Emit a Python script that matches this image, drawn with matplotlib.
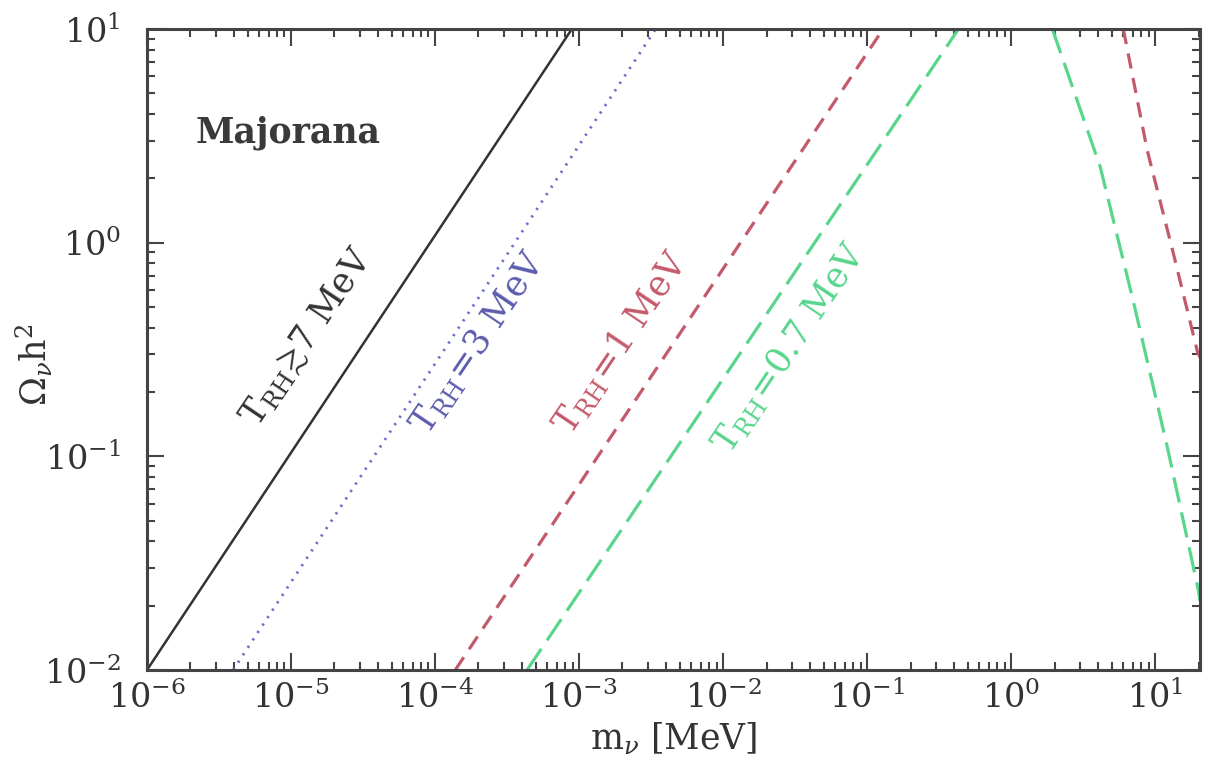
import numpy as np
import matplotlib
matplotlib.use("Agg")
import matplotlib.pyplot as plt
from matplotlib.ticker import LogLocator, NullFormatter

plt.rcParams["font.family"] = ["DejaVu Serif"]
plt.rcParams["mathtext.fontset"] = "dejavuserif"

# curves (m_nu in MeV, Omega h^2)
m_black = [1.0e-6, 8.9e-4]
om_black = [1e-2, 1e1]

m_blue = [3.96e-6, 3.4e-3]
om_blue = [1e-2, 1e1]

m_red = [1.38e-4, 0.129]
om_red = [1e-2, 1e1]
m_red_hi = [6.0, 8.8, 13.3, 19.6, 20.5]
om_red_hi = [1e1, 2.7, 0.9, 0.31, 0.29]

m_green = [4.35e-4, 0.43]
om_green = [1e-2, 1e1]
m_green_hi = [1.93, 4.15, 7.0, 12.1, 19.9, 20.5]
om_green_hi = [1e1, 2.26, 0.54, 0.111, 0.0237, 0.021]

c_black = "#333333"
c_blue = "#5c5cae"
c_red = "#c35a6a"
c_green = "#58d68c"

fig = plt.figure(figsize=(12.05, 7.76), dpi=100)
ax = fig.add_axes([0.122, 0.1366, 0.874, 0.826])

ax.plot(m_black, om_black, "-", color=c_black, lw=1.8)
ax.plot(m_blue, om_blue, color="#6670cc", lw=2.0, dashes=(0.8, 2.4))
ax.plot(m_red, om_red, color=c_red, lw=2.3, dashes=(4.8, 3.0))
ax.plot(m_red_hi, om_red_hi, color=c_red, lw=2.3, dashes=(4.8, 3.0))
ax.plot(m_green, om_green, color=c_green, lw=2.3, dashes=(8.0, 3.2))
ax.plot(m_green_hi, om_green_hi, color=c_green, lw=2.3, dashes=(8.0, 3.2))

ax.set_xscale("log")
ax.set_yscale("log")
ax.set_xlim(1e-6, 20.5)
ax.set_ylim(1e-2, 1e1)

ax.xaxis.set_major_locator(LogLocator(base=10, numticks=20))
ax.xaxis.set_minor_locator(LogLocator(base=10, subs=np.arange(2, 10), numticks=20))
ax.xaxis.set_minor_formatter(NullFormatter())
ax.yaxis.set_minor_formatter(NullFormatter())

ax.tick_params(which="both", direction="in", top=True, right=True,
               color="#444444", width=1.5)
ax.tick_params(which="major", length=12, labelsize=24, labelcolor="#333333")
ax.tick_params(which="minor", length=6)
ax.tick_params(axis="x", which="major", pad=8)
ax.tick_params(axis="y", which="major", pad=19)
for s in ax.spines.values():
    s.set_linewidth(2.2)
    s.set_color("#444444")

ax.set_xlabel(r"m$_\nu$ [MeV]", fontsize=25, color="#333333", labelpad=4)
ax.set_ylabel(r"$\Omega_\nu$h$^2$", fontsize=25, color="#333333")
ax.yaxis.set_label_coords(-0.087, 0.476)

ax.text(0.0456, 0.838, "Majorana", transform=ax.transAxes, fontsize=25,
        fontweight="bold", color="#3a3a3a", va="center", ha="left")

rot = 56
fs = 25
ax.text(1.3e-5, 0.36, r"$\mathrm{T}_{\rm RH}\!\gtrsim\!7$ MeV", color=c_black,
        fontsize=fs, rotation=rot, ha="center", va="center")
ax.text(2.0e-4, 0.34, r"$\mathrm{T}_{\rm RH}\!=\!3$ MeV", color=c_blue,
        fontsize=fs, rotation=rot, ha="center", va="center")
ax.text(1.95e-3, 0.34, r"$\mathrm{T}_{\rm RH}\!=\!1$ MeV", color=c_red,
        fontsize=fs, rotation=rot, ha="center", va="center")
ax.text(0.029, 0.32, r"$\mathrm{T}_{\rm RH}\!=\!0.7$ MeV", color=c_green,
        fontsize=fs, rotation=rot, ha="center", va="center")

fig.savefig("out.png", dpi=100)
